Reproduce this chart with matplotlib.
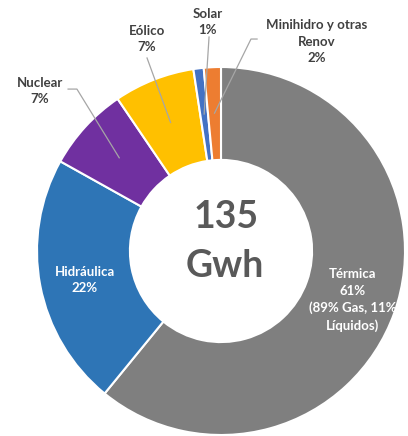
import numpy as np
import matplotlib.pyplot as plt

plt.rcParams['font.family'] = ['Lato', 'DejaVu Sans']

# datos (% de la generacion)
fuentes = ['Térmica', 'Hidráulica', 'Nuclear', 'Eólico', 'Solar', 'Minihidro y otras\nRenov']
valores = [60.9, 22.2, 7.4, 7.1, 0.9, 1.5]
colores = ['#7f7f7f', '#2e75b6', '#7030a0', '#ffc000', '#4472c4', '#ed7d31']
total = '135\nGwh'
nota_termica = '(89% Gas, 11%\nLíquidos)'

fig = plt.figure(figsize=(4.08, 4.36), dpi=100)
ax = fig.add_axes([0, 0, 1, 1])

wedges, _ = ax.pie(valores, colors=colores, startangle=90, counterclock=False,
                   wedgeprops=dict(width=0.505, edgecolor='white', linewidth=1.5))

def etiqueta(i):
    return f'{fuentes[i]}\n{valores[i]:.0f}%'

def punto(w, r=0.75):
    t = np.deg2rad((w.theta1 + w.theta2) / 2)
    return r * np.cos(t), r * np.sin(t)

# etiquetas internas (blancas)
ax.text(-0.739, -0.158, etiqueta(1), ha='center', va='center', color='white',
        fontsize=9.5, fontweight='bold', linespacing=1.45)
ax.text(0.717, -0.266, etiqueta(0) + '\n' + nota_termica, ha='center', va='center',
        color='white', fontsize=9.5, fontweight='bold', linespacing=1.45)

# etiquetas externas con lineas guia
externas = {
    2: dict(txt=(-0.984, 0.870), linea=[(-0.831, 0.880), (-0.783, 0.880)]),
    3: dict(txt=(-0.402, 1.152), linea=[(-0.402, 1.049)]),
    4: dict(txt=(-0.071, 1.245), linea=[(-0.065, 1.163)]),
    5: dict(txt=(0.522, 1.136), linea=[(0.196, 1.152), (0.163, 1.152)]),
}
for i, e in externas.items():
    px, py = punto(wedges[i])
    pts = e['linea'] + [(px, py)]
    ax.plot([p[0] for p in pts], [p[1] for p in pts], color='#a6a6a6', lw=0.9)
    ax.text(e['txt'][0], e['txt'][1], etiqueta(i), ha='center', va='center',
            color='#404040', fontsize=9.5, fontweight='bold', linespacing=1.45)

# total en el centro
ax.text(0.027, 0.185, total.split('\n')[0], ha='center', va='center',
        color='#595959', fontsize=27, fontweight='bold')
ax.text(0.022, -0.082, total.split('\n')[1], ha='center', va='center',
        color='#595959', fontsize=27, fontweight='bold')

ax.set_xlim(-221 / 184, 187 / 184)
ax.set_ylim(-185 / 184, 251 / 184)
ax.set_aspect('equal')
ax.axis('off')

fig.savefig('out.png', dpi=100)
